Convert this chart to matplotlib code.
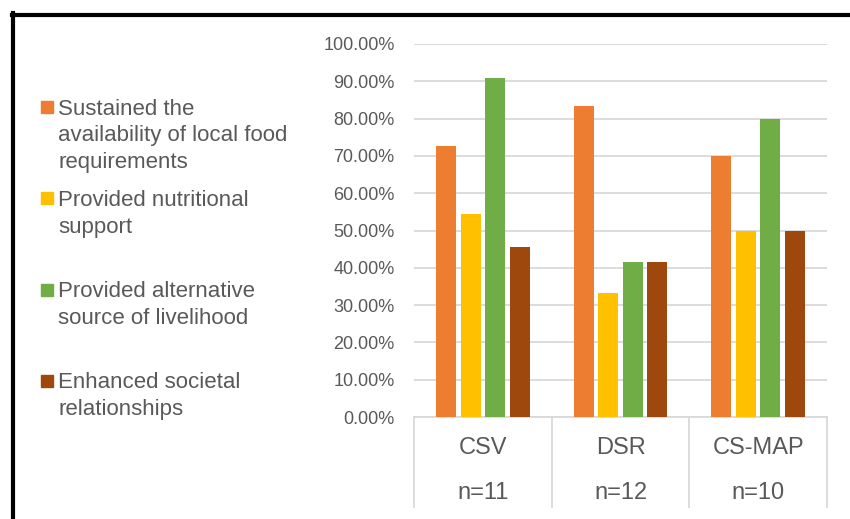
import numpy as np
import matplotlib.pyplot as plt
from matplotlib.patches import Rectangle
from matplotlib.lines import Line2D

plt.rcParams['font.family'] = ['Liberation Sans', 'DejaVu Sans']

# data (% of respondents)
groups = ['CSV', 'DSR', 'CS-MAP']
sample_sizes = ['n=11', 'n=12', 'n=10']
series_labels = ['Sustained the\navailability of local food\nrequirements',
                 'Provided nutritional\nsupport',
                 'Provided alternative\nsource of livelihood',
                 'Enhanced societal\nrelationships']
sustained_food = [72.73, 83.33, 70.00]
nutrition = [54.55, 33.33, 50.00]
livelihood = [90.91, 41.67, 80.00]
societal = [45.45, 41.67, 50.00]
colors = ['#ED7D31', '#FFC000', '#70AD47', '#9E480E']
text_col = '#595959'
grid_col = '#D9D9D9'

W, H = 850, 519
fig = plt.figure(figsize=(W / 100, H / 100), dpi=100)
ax = fig.add_axes([414 / W, 1 - 417 / H, (827 - 414) / W, (417 - 44) / H])

x = np.arange(len(groups))
pitch, width = 0.178, 0.145
series = [sustained_food, nutrition, livelihood, societal]
for i, (vals, c) in enumerate(zip(series, colors)):
    ax.bar(x + (i - 1.5) * pitch, vals, width, color=c, zorder=3)

ax.set_xlim(-0.5, 2.5)
ax.set_ylim(0, 100)
ax.set_yticks(np.arange(0, 101, 10))
ax.yaxis.set_major_formatter(lambda v, p: f'{v:.2f}%')
ax.tick_params(axis='y', length=0, pad=14, labelsize=13, labelcolor=text_col)
ax.set_xticks([])
ax.grid(axis='y', color=grid_col, lw=1.3, zorder=0)
for s in ['top', 'right', 'left']:
    ax.spines[s].set_visible(False)
ax.spines['bottom'].set_color(grid_col)
ax.spines['bottom'].set_linewidth(1.3)

# two-level category table under the axis
tr = ax.get_xaxis_transform()
for xv in [-0.5, 0.5, 1.5, 2.5]:
    ax.add_line(Line2D([xv, xv], [0, -0.241], transform=tr, color=grid_col,
                       lw=1.3, clip_on=False))
for i, (g, n) in enumerate(zip(groups, sample_sizes)):
    ax.text(i, -0.083, g, transform=tr, ha='center', va='center',
            fontsize=17, color=text_col)
    ax.text(i, -0.204, n, transform=tr, ha='center', va='center',
            fontsize=17, color=text_col)

# legend on the left
for i, (lab, c) in enumerate(zip(series_labels, colors)):
    cy = 107 + 91.3 * i
    fig.patches.append(Rectangle((41 / W, 1 - (cy + 6) / H), 12 / W, 12 / H,
                                 transform=fig.transFigure, color=c))
    fig.text(58 / W, 1 - (cy - 8.5) / H, lab, va='top', ha='left',
             fontsize=16, linespacing=1.36, color=text_col)

# black frame (cropped screenshot border)
fig.add_artist(Line2D([12 / W, 1], [1 - 14.5 / H] * 2, lw=3, color='black'))
fig.add_artist(Line2D([13.5 / W] * 2, [1 - 13 / H, 0], lw=3, color='black'))

fig.savefig('out.png', dpi=100)
